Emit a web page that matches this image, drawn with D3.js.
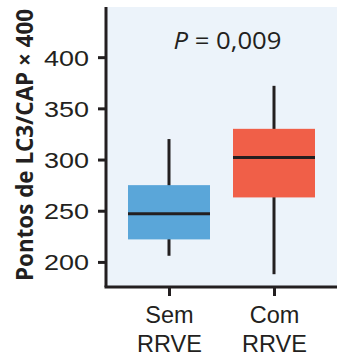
<!DOCTYPE html>
<html>
<head>
<meta charset="utf-8">
<script src="https://cdn.jsdelivr.net/npm/d3@7"></script>
<style>
  body { margin: 0; background: #fff; }
  svg { display: block; font-family: "Open Sans", "Noto Sans", sans-serif; }
</style>
</head>
<body>
<svg id="chart" width="337" height="356"></svg>
<script>
const groups = ["Sem\nRRVE", "Com\nRRVE"];
const whiskerLow = [206, 188];
const q1 = [222, 263];
const median = [247, 302];
const q3 = [275, 330];
const whiskerHigh = [320, 372];
const colors = ["#5aa6d9", "#f05f48"];
const yTicks = [200, 250, 300, 350, 400];
const pLabel = "0,009";

const width = 337, height = 356;
const margin = { top: 7, right: 0, bottom: 69, left: 106 };
const ink = "#231f20";
const svg = d3.select("#chart");

const x = d3.scalePoint()
  .domain(groups)
  .range([margin.left, width])
  .padding(0.6);

const y = d3.scaleLinear()
  .domain([175.5, 449])
  .range([height - margin.bottom, margin.top]);

// plot background
svg.append("rect")
  .attr("x", margin.left)
  .attr("y", margin.top)
  .attr("width", width - margin.left)
  .attr("height", height - margin.bottom - margin.top)
  .attr("fill", "#ecf3fa");

const boxW = 82;
const data = groups.map((g, i) => ({
  g, lo: whiskerLow[i], q1: q1[i], med: median[i], q3: q3[i], hi: whiskerHigh[i], c: colors[i]
}));

const box = svg.append("g").selectAll("g")
  .data(data)
  .enter().append("g");

box.append("line")
  .attr("x1", d => x(d.g)).attr("x2", d => x(d.g))
  .attr("y1", d => y(d.hi)).attr("y2", d => y(d.lo))
  .attr("stroke", ink).attr("stroke-width", 3);

box.append("rect")
  .attr("x", d => x(d.g) - boxW / 2)
  .attr("y", d => y(d.q3))
  .attr("width", boxW)
  .attr("height", d => y(d.q1) - y(d.q3))
  .attr("fill", d => d.c);

box.append("line")
  .attr("x1", d => x(d.g) - boxW / 2).attr("x2", d => x(d.g) + boxW / 2)
  .attr("y1", d => y(d.med)).attr("y2", d => y(d.med))
  .attr("stroke", ink).attr("stroke-width", 3);

// y axis
const yAxis = svg.append("g")
  .attr("transform", `translate(${margin.left},0)`)
  .call(d3.axisLeft(y).tickValues(yTicks).tickSize(8).tickPadding(9));
yAxis.select(".domain").remove();
yAxis.append("line")
  .attr("x1", 0).attr("x2", 0)
  .attr("y1", margin.top).attr("y2", height - margin.bottom)
  .attr("stroke", ink).attr("stroke-width", 3);
yAxis.selectAll(".tick line").attr("stroke", ink).attr("stroke-width", 3);
yAxis.selectAll(".tick text")
  .attr("fill", ink)
  .attr("dy", "0.36em")
  .attr("textLength", 45)
  .attr("lengthAdjust", "spacingAndGlyphs")
  .style("font-size", "22px")
  .style("font-weight", 500);

// x axis
const xAxis = svg.append("g")
  .attr("transform", `translate(0,${height - margin.bottom})`)
  .call(d3.axisBottom(x).tickSize(9).tickFormat(""));
xAxis.select(".domain").remove();
xAxis.append("line")
  .attr("x1", margin.left - 1.5).attr("x2", width)
  .attr("y1", 0).attr("y2", 0)
  .attr("stroke", ink).attr("stroke-width", 3);
xAxis.selectAll(".tick line").attr("stroke", ink).attr("stroke-width", 3);
xAxis.selectAll(".tick").each(function(d) {
  const t = d3.select(this).append("text")
    .attr("fill", ink)
    .attr("text-anchor", "middle")
    .style("font-size", "23.5px")
    .style("font-weight", 500);
  d.split("\n").forEach((line, i) => {
    t.append("tspan").attr("x", 0).attr("y", 36 + i * 29).text(line);
  });
});

// y label
svg.append("text")
  .attr("transform", `translate(33,145) rotate(-90)`)
  .attr("text-anchor", "middle")
  .attr("fill", ink)
  .attr("textLength", 272)
  .attr("lengthAdjust", "spacingAndGlyphs")
  .style("font-size", "23px")
  .style("font-weight", "bold")
  .text("Pontos de LC3/CAP × 400");

// p value
const pt = svg.append("text")
  .attr("x", 227.5)
  .attr("y", 49)
  .attr("text-anchor", "middle")
  .attr("fill", ink)
  .attr("textLength", 108)
  .attr("lengthAdjust", "spacingAndGlyphs")
  .style("font-size", "23px")
  .style("font-weight", 500);
pt.append("tspan").style("font-style", "italic").text("P");
pt.append("tspan").text(" = " + pLabel);
</script>
</body>
</html>
